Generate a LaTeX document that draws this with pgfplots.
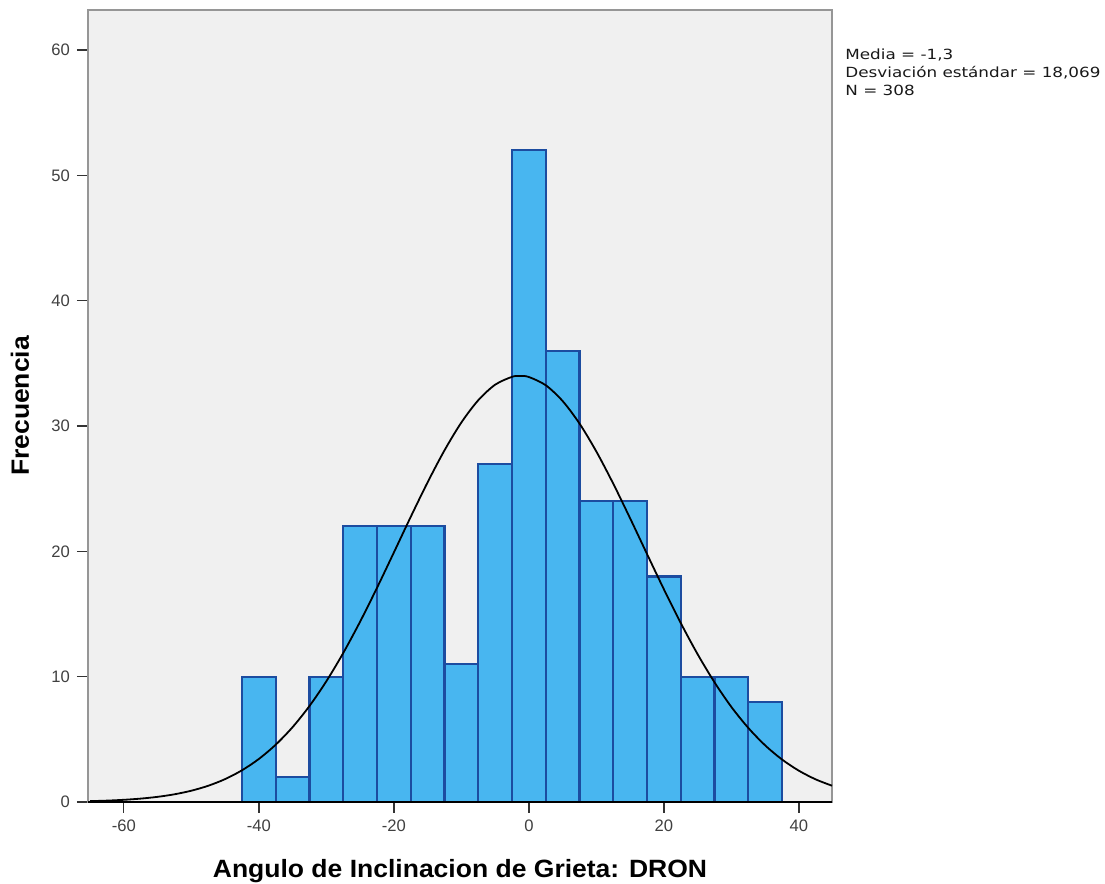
\documentclass[border=0pt]{standalone}
\usepackage{fontspec}
\setmainfont{Liberation Sans}
\newfontfamily\statfont[FakeStretch=1.2]{DejaVu Sans}
\newfontfamily\labfont[FakeStretch=1.06]{Liberation Sans}
\usepackage{pgfplots}
\pgfplotsset{compat=1.18}

\definecolor{barfill}{RGB}{72,182,240}
\definecolor{baredge}{RGB}{28,76,160}
\definecolor{plotbg}{RGB}{240,240,240}
\definecolor{framegray}{RGB}{150,150,150}

\begin{document}
\begin{tikzpicture}
\begin{axis}[
  scale only axis,
  width=372pt, height=396pt,
  xmin=-65.3, xmax=44.9,
  ymin=0, ymax=63.2,
  xtick={-60,-40,-20,0,20,40},
  ytick={0,10,20,30,40,50,60},
  tick align=outside,
  major tick length=5.5pt,
  tick style={black!80, line width=0.7pt},
  xtick pos=bottom, ytick pos=left,
  axis line style={framegray, line width=0.9pt},
  axis background/.style={fill=plotbg},
  ticklabel style={font=\fontsize{8.3}{10}\selectfont, text=black!75},
  /pgf/number format/assume math mode=true,
  xlabel={Angulo de Inclinacion de Grieta: DRON},
  ylabel={Frecuencia},
  every axis x label/.style={at={([yshift=-38pt]rel axis cs:0.5,0)}, anchor=base,
    font=\labfont\bfseries\fontsize{12.5}{14}\selectfont},
  every axis y label/.style={at={([xshift=-34pt]rel axis cs:0,0.5)}, anchor=center,
    rotate=90, font=\labfont\bfseries\fontsize{12.5}{14}\selectfont},
  clip=false,
]
\addplot[ybar interval, fill=barfill, draw=baredge, line width=1.1pt] coordinates {
(-42.5,10) (-37.5,2) (-32.5,10) (-27.5,22) (-22.5,22) (-17.5,22)
(-12.5,11) (-7.5,27) (-2.5,52) (2.5,36) (7.5,24) (12.5,24)
(17.5,18) (22.5,10) (27.5,10) (32.5,8) (37.5,8)
};
\addplot[black, line width=0.9pt, smooth] coordinates {
(-65,0.068) (-62.5,0.110) (-60,0.174) (-57.5,0.270) (-55,0.411)
(-52.5,0.614) (-50,0.900) (-47.5,1.294) (-45,1.825) (-42.5,2.527)
(-40,3.431) (-37.5,4.571) (-35,5.971) (-32.5,7.657) (-30,9.632)
(-27.5,11.885) (-25,14.386) (-22.5,17.083) (-20,19.904) (-17.5,22.751)
(-15,25.508) (-12.5,28.058) (-10,30.281) (-7.5,32.056) (-5,33.297)
(-2.5,33.926) (-1.3,34.0) (0,33.913) (2.5,33.257) (5,31.995)
(7.5,30.200) (10,27.963) (12.5,25.399) (15,22.635) (17.5,19.789)
(20,16.973) (22.5,14.280) (25,11.788) (27.5,9.548) (30,7.582)
(32.5,5.913) (35,4.519) (37.5,3.390) (40,2.495) (42.5,1.801) (44.9,1.30)
};
\draw[black, line width=0.9pt] (rel axis cs:0,0) -- (rel axis cs:1,0);
\node[anchor=north west, align=left, inner sep=0pt,
      font=\statfont\fontsize{7}{9}\selectfont, text=black!90]
  at ([xshift=6.5pt, yshift=-19pt]rel axis cs:1,1)
  {Media = -1,3\\Desviación estándar = 18,069\\N = 308};
\end{axis}
\pgfresetboundingbox
\path[use as bounding box] ([shift={(-44pt,-41pt)}]current axis.south west)
  rectangle ([shift={(136.5pt,5pt)}]current axis.north east);
\end{tikzpicture}
\end{document}
